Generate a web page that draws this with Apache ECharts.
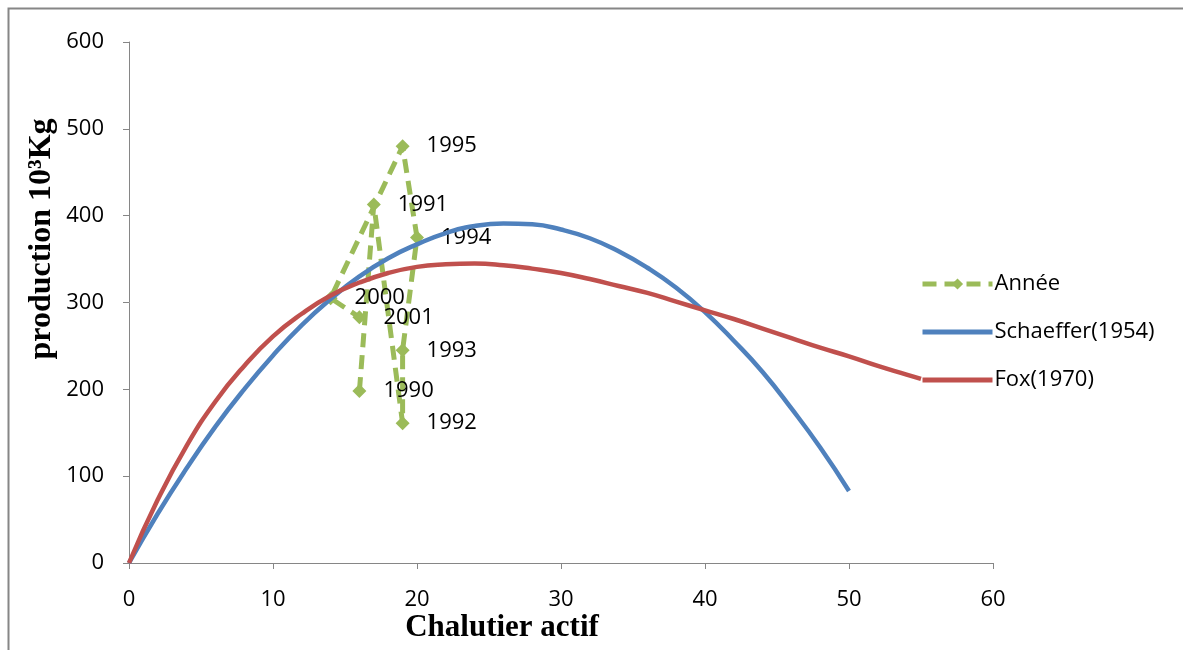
<!DOCTYPE html>
<html>
<head>
<meta charset="utf-8">
<script src="https://cdn.jsdelivr.net/npm/echarts@6/dist/echarts.min.js"></script>
<style>html,body{margin:0;padding:0;background:#fff}#c{width:1183px;height:650px}</style>
</head>
<body>
<div id="c"></div>
<script>
// Observed points (Année)
const anneeLabels = ['1990','1991','1992','1993','1994','1995','2000','2001'];
const anneeX = [16, 17, 19, 19, 20, 19, 14, 16];
const anneeY = [198, 413, 161, 245, 375, 480, 305, 283];

// Schaeffer (1954) curve
const schaefferX = [0,2,4,6,8,10,12,14,16,18,20,22,24,26,28,30,32,34,36,38,40,42,44,46,48,50];
const schaefferY = [0,57,109,157,200,239,274,304,330,351,367,380,388,391,390,384,374,359,340,317,289,256,220,178,133,83];

// Fox (1970) curve
const foxX = [0,2,4,6,8,10,12,14,16,18,20,22,24,26,28,30,32,34,36,38,40,42,44,46,48,50,52,54,55];
const foxY = [0,73,135,186,227,261,287,308,323,334,341,344,345,343,339,334,327,319,311,301,291,281,270,259,248,238,227,217,212];

const xTicks = [0,10,20,30,40,50,60];
const yTicks = [0,100,200,300,400,500,600];

const pair = (xs, ys) => xs.map((x, i) => [x, ys[i]]);
const anneeData = anneeX.map((x, i) => ({ value: [x, anneeY[i]], name: anneeLabels[i] }));

const chart = echarts.init(document.getElementById('c'), null, { renderer: 'canvas' });
const axisColor = '#868686';
const FONT = 'Open Sans';
chart.setOption({
  animation: false,
  backgroundColor: '#fff',
  grid: { left: 129, right: 190, top: 42, bottom: 87, containLabel: false },
  xAxis: {
    type: 'value', min: xTicks[0], max: xTicks[xTicks.length - 1], interval: 10,
    axisLine: { show: true, lineStyle: { color: axisColor, width: 1 } },
    axisTick: { show: true, length: 6, lineStyle: { color: axisColor } },
    splitLine: { show: false },
    axisLabel: { color: '#000', fontSize: 22, fontFamily: FONT, margin: 26 }
  },
  yAxis: {
    type: 'value', min: yTicks[0], max: yTicks[yTicks.length - 1], interval: 100,
    axisLine: { show: true, lineStyle: { color: axisColor, width: 1 } },
    axisTick: { show: true, length: 6, lineStyle: { color: axisColor } },
    splitLine: { show: false },
    axisLabel: { color: '#000', fontSize: 22, fontFamily: FONT, margin: 25 }
  },
  legend: {
    orient: 'vertical', left: 915, top: 268, itemWidth: 70, itemHeight: 14, itemGap: 26,
    textStyle: { color: '#000', fontSize: 22, fontFamily: FONT, lineHeight: 22, padding: [0,0,0,-3] },
    data: [
      { name: 'Année', lineStyle: { width: 5 } },
      { name: 'Schaeffer(1954)', itemStyle: { opacity: 0 }, lineStyle: { width: 5 } },
      { name: 'Fox(1970)', itemStyle: { opacity: 0 }, lineStyle: { width: 5 } }
    ]
  },
  graphic: [
    { type: 'rect', shape: { x: 8.5, y: 8.5, width: 1300, height: 800 }, style: { fill: 'none', stroke: axisColor, lineWidth: 2 }, silent: true, z: -1 },
    { type: 'text', x: 502, y: 628, style: { text: 'Chalutier actif', font: 'bold 31px "Liberation Serif"', fill: '#000', textAlign: 'center', textVerticalAlign: 'middle' } },
    { type: 'text', x: 42, y: 239, rotation: Math.PI / 2, style: { text: 'production 10³Kg', font: 'bold 32px "Liberation Serif"', fill: '#000', textAlign: 'center', textVerticalAlign: 'middle' } }
  ],
  series: [
    {
      name: 'Année', type: 'line', data: anneeData, z: 2,
      lineStyle: { color: '#9BBB59', width: 5, type: [14, 8] },
      itemStyle: { color: '#9BBB59' },
      symbol: 'diamond', symbolSize: 14, showAllSymbol: true,
      label: { show: true, position: 'right', distance: 17, formatter: p => p.name, color: '#000', fontSize: 22, fontFamily: FONT }
    },
    {
      name: 'Schaeffer(1954)', type: 'line', data: pair(schaefferX, schaefferY), smooth: true, z: 3,
      lineStyle: { color: '#4F81BD', width: 4.5 }, itemStyle: { color: '#4F81BD' }, showSymbol: false, symbol: 'none'
    },
    {
      name: 'Fox(1970)', type: 'line', data: pair(foxX, foxY), smooth: true, z: 3,
      lineStyle: { color: '#C0504D', width: 4.5 }, itemStyle: { color: '#C0504D' }, showSymbol: false, symbol: 'none'
    }
  ]
});
</script>
</body>
</html>
